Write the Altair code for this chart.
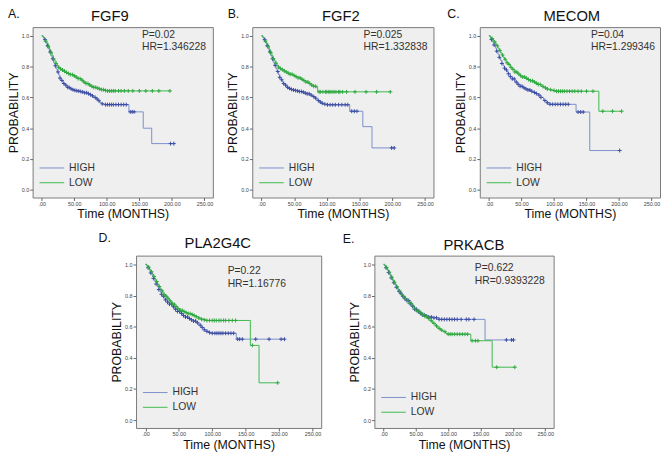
import altair as alt
import pandas as pd

FONT = "Liberation Sans"

GENES = ["FGF9", "FGF2", "MECOM", "PLA2G4C", "PRKACB"]
LETTERS = ["A.", "B.", "C.", "D.", "E."]
P_VALUES = ["0.02", "0.025", "0.04", "0.22", "0.622"]
HR_VALUES = ["1.346228", "1.332838", "1.299346", "1.16776", "0.9393228"]
GROUPS = ["HIGH", "LOW"]
X_TICKS = [0, 50, 100, 150, 200, 250]
Y_TICKS = [0.0, 0.2, 0.4, 0.6, 0.8, 1.0]

# ---- Panel A (FGF9) ----
A_HIGH_T = [0, 2, 4, 6, 8, 10, 12, 14, 16, 18, 20, 22, 24, 26, 28, 30, 32, 34, 36, 38,
            40, 43, 46, 49, 52, 55, 58, 62, 66, 70, 74, 77, 80, 83, 86, 89, 92, 96, 134, 156, 169, 203]
A_HIGH_S = [1.0, .99, .975, .955, .935, .915, .895, .87, .85, .825, .805, .785, .765, .745, .725, .71, .70, .69, .68, .672,
            .665, .656, .65, .646, .643, .641, .638, .635, .63, .624, .617, .61, .60, .59, .578, .566, .558, .553, .506, .40, .30, .30]
A_LOW_T = [0, 2, 4, 6, 8, 10, 12, 14, 16, 18, 20, 22, 24, 26, 28, 30, 33, 36, 40, 44, 48, 52, 56, 60, 64, 68,
           72, 76, 80, 84, 88, 92, 96, 100, 197]
A_LOW_S = [1.0, .99, .98, .965, .95, .93, .91, .89, .87, .85, .835, .82, .805, .795, .785, .778, .77, .762, .755, .748,
           .74, .732, .722, .712, .70, .69, .68, .672, .665, .66, .655, .65, .645, .642, .642]
A_HIGH_C = [5, 9, 13, 17, 21, 25, 28, 31, 34, 37, 40, 42, 45, 48, 51, 54, 57, 60, 63, 66, 69, 72, 75, 78, 82, 85, 88,
            93, 98, 101, 104, 107, 110, 114, 118, 122, 126, 130, 136, 139, 142, 198, 203]
A_LOW_C = [6, 10, 14, 18, 22, 26, 29, 32, 35, 38, 41, 44, 47, 50, 53, 56, 59, 62, 65, 68, 71, 74, 77, 80, 83, 86, 89,
           92, 95, 98, 101, 104, 107, 110, 113, 118, 122, 127, 133, 140, 150, 160, 170, 180, 197]

# ---- Panel B (FGF2) ----
B_HIGH_T = [0, 2, 4, 6, 8, 10, 12, 14, 16, 18, 20, 22, 24, 26, 28, 30, 32, 34, 36, 38, 40,
            43, 46, 49, 52, 55, 58, 62, 66, 70, 74, 78, 82, 85, 88, 92, 96, 100, 135, 155, 169, 203]
B_HIGH_S = [1.0, .99, .975, .955, .935, .915, .895, .872, .85, .828, .808, .788, .768, .748, .73, .714, .70, .69, .68, .672, .665,
            .658, .652, .648, .645, .642, .638, .634, .628, .623, .615, .605, .595, .58, .57, .562, .556, .552, .51, .41, .272, .272]
B_LOW_T = [0, 2, 4, 6, 8, 10, 12, 14, 16, 18, 20, 22, 24, 26, 28, 30, 33, 36, 40, 44, 48, 52, 56, 60, 64, 68,
           72, 76, 80, 84, 86, 197]
B_LOW_S = [1.0, .99, .98, .965, .95, .93, .91, .89, .87, .852, .837, .822, .808, .797, .787, .78, .772, .765, .757, .75,
           .742, .735, .727, .718, .71, .70, .69, .68, .672, .666, .636, .636]
B_HIGH_C = [5, 9, 13, 17, 21, 25, 28, 31, 34, 37, 40, 43, 46, 49, 52, 55, 58, 61, 64, 67, 70, 73, 76, 80, 83, 87, 90,
            93, 97, 101, 105, 109, 113, 118, 123, 128, 132, 138, 142, 146, 199, 203]
B_LOW_C = [6, 10, 14, 18, 22, 26, 29, 32, 35, 38, 41, 44, 47, 50, 53, 56, 59, 62, 65, 68, 71, 74, 77, 80, 83, 88, 90,
           94, 98, 100, 103, 105, 108, 111, 114, 118, 120, 124, 130, 143, 160, 176, 197]

# ---- Panel C (MECOM) ----
C_HIGH_T = [0, 2, 4, 6, 8, 10, 12, 14, 16, 18, 20, 22, 24, 26, 28, 30, 33, 36, 40, 44, 48, 52, 56, 60, 64, 68,
            72, 76, 80, 84, 88, 94, 134, 155, 201]
C_HIGH_S = [1.0, .99, .975, .958, .94, .92, .90, .88, .86, .84, .82, .805, .79, .778, .766, .753, .735, .72, .70, .685,
            .672, .662, .655, .648, .64, .632, .625, .615, .60, .58, .565, .555, .505, .255, .255]
C_LOW_T = [0, 2, 4, 6, 8, 10, 12, 14, 16, 18, 20, 22, 24, 26, 28, 30, 33, 36, 40, 44, 48, 52, 56, 60, 64, 68,
           72, 76, 80, 84, 88, 92, 96, 101, 169, 204]
C_LOW_S = [1.0, .99, .982, .972, .96, .948, .935, .92, .905, .89, .875, .86, .847, .835, .824, .814, .795, .782, .765, .752,
           .74, .732, .724, .716, .708, .70, .692, .684, .672, .662, .655, .65, .645, .64, .51, .51]
C_HIGH_C = [4, 8, 12, 16, 20, 24, 27, 30, 33, 36, 39, 42, 45, 48, 51, 54, 57, 60, 63, 66, 70, 73, 77, 80, 86, 90, 94,
            98, 102, 106, 110, 114, 118, 122, 137, 141, 145, 201]
C_LOW_C = [5, 9, 13, 17, 21, 25, 28, 31, 34, 37, 40, 43, 46, 49, 52, 55, 58, 61, 64, 67, 70, 73, 76, 79, 83, 87, 90,
           95, 100, 104, 107, 110, 113, 116, 120, 124, 128, 132, 137, 142, 150, 160, 175, 190, 204]

# ---- Panel D (PLA2G4C) ----
D_HIGH_T = [0, 2, 4, 6, 8, 10, 12, 14, 16, 18, 20, 22, 24, 26, 28, 30, 33, 36, 40, 44, 48, 52, 56, 60, 64, 68,
            72, 76, 80, 84, 88, 92, 96, 100, 136, 208]
D_HIGH_S = [1.0, .99, .978, .962, .945, .928, .91, .892, .874, .856, .838, .822, .808, .795, .783, .772, .758, .745, .728, .712,
            .698, .685, .672, .662, .652, .644, .636, .625, .61, .595, .58, .57, .562, .558, .52, .52]
D_LOW_T = [0, 2, 4, 6, 8, 10, 12, 14, 16, 18, 20, 22, 24, 26, 28, 30, 33, 36, 40, 44, 48, 52, 56, 60, 64, 68,
           72, 76, 80, 84, 88, 92, 157, 170, 198]
D_LOW_S = [1.0, .992, .982, .968, .953, .938, .922, .906, .89, .874, .858, .843, .83, .818, .806, .796, .782, .765, .745, .73,
           .716, .705, .697, .69, .684, .678, .672, .664, .655, .648, .644, .64, .48, .24, .24]
D_HIGH_C = [4, 8, 12, 16, 20, 24, 27, 30, 33, 36, 39, 42, 45, 48, 51, 54, 57, 60, 63, 66, 69, 72, 75, 78, 82, 85, 88,
            92, 96, 100, 104, 107, 110, 113, 116, 120, 124, 128, 132, 138, 141, 145, 165, 185, 203, 208]
D_LOW_C = [5, 9, 13, 17, 21, 25, 28, 31, 34, 37, 40, 43, 46, 49, 52, 55, 58, 61, 64, 67, 70, 73, 76, 80, 84, 88, 92,
           96, 100, 103, 106, 110, 113, 117, 120, 125, 130, 135, 160, 198]

# ---- Panel E (PRKACB) ----
E_HIGH_T = [0, 2, 4, 6, 8, 10, 12, 14, 16, 18, 20, 22, 24, 26, 28, 30, 33, 36, 40, 44, 48, 52, 56, 60, 64, 70,
            76, 86, 157, 201]
E_HIGH_S = [1.0, .99, .978, .963, .947, .93, .913, .897, .882, .868, .853, .84, .827, .815, .804, .794, .78, .768, .748, .73,
            .712, .698, .686, .676, .668, .662, .657, .647, .515, .515]
E_LOW_T = [0, 2, 4, 6, 8, 10, 12, 14, 16, 18, 20, 22, 24, 26, 28, 30, 33, 36, 40, 44, 48, 52, 56, 60, 64, 68,
           72, 76, 80, 84, 88, 92, 96, 99, 135, 168, 203]
E_LOW_S = [1.0, .992, .98, .965, .95, .934, .918, .902, .886, .871, .856, .842, .829, .817, .806, .796, .782, .769, .75, .732,
           .714, .70, .688, .678, .666, .652, .638, .622, .605, .59, .578, .568, .558, .552, .51, .34, .34]
E_HIGH_C = [4, 8, 12, 16, 20, 24, 27, 30, 33, 36, 39, 42, 45, 48, 51, 54, 57, 60, 63, 66, 70, 74, 78, 82, 86, 90, 94,
            98, 102, 106, 110, 114, 120, 128, 132, 140, 190, 198, 201]
E_LOW_C = [5, 9, 13, 17, 21, 25, 28, 31, 34, 37, 40, 43, 46, 49, 52, 55, 58, 61, 64, 67, 70, 74, 78, 82, 86, 90, 95,
           100, 103, 106, 110, 114, 118, 122, 126, 130, 137, 142, 146, 175, 203]

CURVES = {
    "FGF9": {"HIGH": (A_HIGH_T, A_HIGH_S, A_HIGH_C), "LOW": (A_LOW_T, A_LOW_S, A_LOW_C)},
    "FGF2": {"HIGH": (B_HIGH_T, B_HIGH_S, B_HIGH_C), "LOW": (B_LOW_T, B_LOW_S, B_LOW_C)},
    "MECOM": {"HIGH": (C_HIGH_T, C_HIGH_S, C_HIGH_C), "LOW": (C_LOW_T, C_LOW_S, C_LOW_C)},
    "PLA2G4C": {"HIGH": (D_HIGH_T, D_HIGH_S, D_HIGH_C), "LOW": (D_LOW_T, D_LOW_S, D_LOW_C)},
    "PRKACB": {"HIGH": (E_HIGH_T, E_HIGH_S, E_HIGH_C), "LOW": (E_LOW_T, E_LOW_S, E_LOW_C)},
}

# ---- styling / layout (not data) ----
LINE_COL = {"HIGH": "#7b8fcb", "LOW": "#3dba4c"}
MARK_COL = {"HIGH": "#3b4ca3", "LOW": "#2fa840"}
PLUS = "M-1,0H1M0,-1V1"
LAYOUT = [
    dict(w=183, h=173, lx=-25, ly=-9, tdx=-13, ty=-6, sx=111, sy=8, lb=30),
    dict(w=184, h=173, lx=-25, ly=-9, tdx=-2, ty=-6, sx=113, sy=8, lb=30),
    dict(w=183, h=173, lx=-33, ly=-9, tdx=2, ty=-6, sx=113, sy=8, lb=30),
    dict(w=188, h=175, lx=-38, ly=-14, tdx=-11, ty=-8, sx=93, sy=16, lb=36),
    dict(w=182, h=175, lx=-32, ly=-13, tdx=10, ty=-6, sx=102, sy=13, lb=31),
]


def surv_at(T, S, t):
    s = S[0]
    for ti, si in zip(T, S):
        if ti <= t:
            s = si
        else:
            break
    return s


XAXIS = alt.Axis(values=X_TICKS, title="Time (MONTHS)", grid=False, domain=False,
                 labelExpr="datum.value == 0 ? '.00' : format(datum.value, '.2f')",
                 labelFontSize=5.5, labelPadding=1, tickSize=3, tickColor="#666",
                 labelColor="#444", titleFontSize=12.5, titleFontWeight="normal",
                 titlePadding=1, titleColor="#111", labelFont=FONT, titleFont=FONT)
YAXIS = alt.Axis(values=Y_TICKS, title="PROBABILITY", grid=False, domain=False, format=".1f",
                 labelFontSize=5.5, labelPadding=1, tickSize=3, tickColor="#666",
                 labelColor="#444", titleFontSize=12.5, titleFontWeight="normal",
                 titlePadding=1, titleColor="#111", labelFont=FONT, titleFont=FONT)


def panel(i):
    gene = GENES[i]
    lay = LAYOUT[i]
    xs = alt.Scale(domain=[-14, 263], nice=False, zero=False)
    ys = alt.Scale(domain=[-0.05, 1.056], nice=False, zero=False)
    layers = []
    for g in GROUPS:
        T, S, C = CURVES[gene][g]
        assert len(T) == len(S)
        df = pd.DataFrame({"t": T, "s": S})
        layers.append(
            alt.Chart(df).mark_line(interpolate="step-after", color=LINE_COL[g], strokeWidth=1)
            .encode(x=alt.X("t:Q", scale=xs, axis=XAXIS), y=alt.Y("s:Q", scale=ys, axis=YAXIS))
        )
    for g in GROUPS:
        T, S, C = CURVES[gene][g]
        cdf = pd.DataFrame({"t": C, "s": [surv_at(T, S, c) for c in C]})
        layers.append(
            alt.Chart(cdf).mark_point(shape=PLUS, size=16, color=MARK_COL[g], strokeWidth=1, filled=False, opacity=1)
            .encode(x=alt.X("t:Q", scale=xs, axis=XAXIS), y=alt.Y("s:Q", scale=ys, axis=YAXIS))
        )
    one = pd.DataFrame({"k": [0]})
    h = lay["h"]
    w = lay["w"]
    for j, g in enumerate(GROUPS):
        yy = h - lay["lb"] + j * 15
        layers.append(alt.Chart(one).mark_rule(color=LINE_COL[g], strokeWidth=1)
                      .encode(x=alt.value(7), x2=alt.value(32), y=alt.value(yy)))
        layers.append(alt.Chart(one).mark_text(align="left", baseline="middle", fontSize=10.5, font=FONT, color="#333")
                      .encode(x=alt.value(37), y=alt.value(yy), text=alt.value(g)))
    layers.append(alt.Chart(one).mark_text(align="left", baseline="middle", fontSize=10.5, font=FONT, color="#333")
                  .encode(x=alt.value(lay["sx"]), y=alt.value(lay["sy"]), text=alt.value("P=" + P_VALUES[i])))
    layers.append(alt.Chart(one).mark_text(align="left", baseline="middle", fontSize=10.5, font=FONT, color="#333")
                  .encode(x=alt.value(lay["sx"]), y=alt.value(lay["sy"] + 12.5), text=alt.value("HR=" + HR_VALUES[i])))
    layers.append(alt.Chart(one).mark_text(align="left", baseline="alphabetic", fontSize=12.5, font=FONT, color="#111")
                  .encode(x=alt.value(lay["lx"]), y=alt.value(lay["ly"]), text=alt.value(LETTERS[i])))
    layers.append(alt.Chart(one).mark_text(align="center", baseline="alphabetic", fontSize=15, font=FONT, color="#111")
                  .encode(x=alt.value(w / 2 + lay["tdx"]), y=alt.value(lay["ty"]), text=alt.value(gene)))
    return alt.layer(*layers).properties(
        width=w, height=h,
        view=alt.ViewBackground(fill="#efefef", stroke="#7a7a7a", strokeWidth=1),
    )


pA, pB, pC, pD, pE = [panel(i) for i in range(5)]

# empty, invisible cell that shifts the bottom row to the right
spacer = alt.Chart(pd.DataFrame({"k": [0]})).mark_point(opacity=0).encode(
    x=alt.value(0), y=alt.value(0)
).properties(width=45, height=10,
             view=alt.ViewBackground(fill="transparent", stroke="transparent"))

top = alt.hconcat(pA, pB, pC, spacing=12)
bottom = alt.hconcat(spacer, pD, pE, spacing=20)
chart = alt.vconcat(top, bottom, spacing=10).properties(
    padding={"left": -2, "top": -4, "right": 0, "bottom": 0},
    background="white",
)

chart.save("out.html", embed_options={"renderer": "svg", "actions": False})
